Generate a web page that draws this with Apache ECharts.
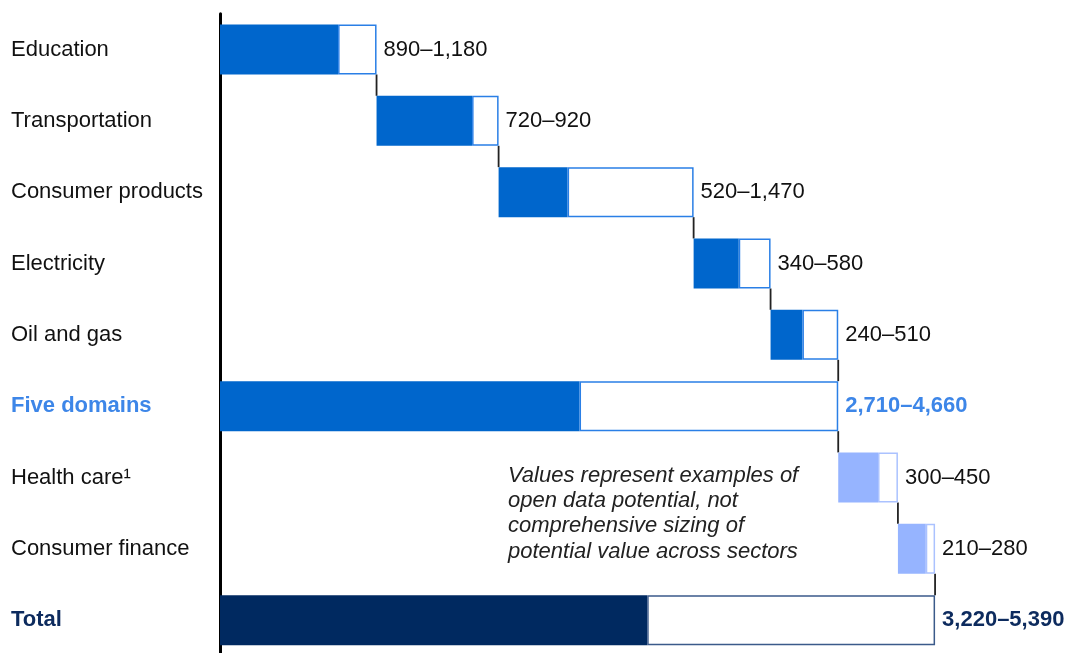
<!DOCTYPE html>
<html>
<head>
<meta charset="utf-8">
<script src="https://cdn.jsdelivr.net/npm/echarts@6/dist/echarts.min.js"></script>
<style>
  html, body { margin: 0; padding: 0; background: #fff; overflow: hidden; width: 1067px; height: 653px; }
  #chart { width: 1067px; height: 662px; }
</style>
</head>
<body>
<div id="chart"></div>
<script>
// ---- Data ----
const categories = ['Education', 'Transportation', 'Consumer products', 'Electricity', 'Oil and gas', 'Five domains', 'Health care\u00B9', 'Consumer finance', 'Total'];
const lowValues  = [890, 720, 520, 340, 240, 2710, 300, 210, 3220];
const highValues = [1180, 920, 1470, 580, 510, 4660, 450, 280, 5390];
const rowKinds   = ['domain', 'domain', 'domain', 'domain', 'domain', 'subtotal', 'sector', 'sector', 'total'];
const noteText = 'Values represent examples of\nopen data potential, not\ncomprehensive sizing of\npotential value across sectors';

// ---- Derived (waterfall offsets) ----
const offsets = [];
let running = 0;
rowKinds.forEach((k, i) => {
  if (k === 'subtotal' || k === 'total') { offsets.push(0); }
  else { offsets.push(running); running += highValues[i]; }
});
const ends = offsets.map((o, i) => o + highValues[i]);

const palette = {
  domain:   { fill: '#0066CC', border: '#2A7FE6', text: '#111' },
  subtotal: { fill: '#0066CC', border: '#2A7FE6', text: '#3D86E8' },
  sector:   { fill: '#96B4FF', border: '#ABC2FF', text: '#111' },
  total:    { fill: '#002960', border: '#3B5A8A', text: '#0D2B5E' }
};
const fmt = n => n.toLocaleString('en-US');
const FS = 22;
const BAR_H = 50;
const FONT = 'Liberation Sans, Arial, sans-serif';

const chart = echarts.init(document.getElementById('chart'), null, { renderer: 'canvas' });
chart.setOption({
  animation: false,
  backgroundColor: '#fff',
  grid: { left: 220, top: 13.8, width: 796, height: 642 },
  xAxis: { type: 'value', min: 0, max: 6000, show: false },
  yAxis: {
    type: 'category', inverse: true, data: categories,
    axisLine: { show: true, lineStyle: { color: '#000', width: 3 } },
    axisTick: { show: false },
    axisLabel: {
      margin: 209, align: 'left',
      fontFamily: FONT, fontSize: FS, color: '#111',
      formatter: v => {
        const i = categories.indexOf(v);
        if (rowKinds[i] === 'subtotal') return '{sub|' + v + '}';
        if (rowKinds[i] === 'total') return '{tot|' + v + '}';
        return v;
      },
      rich: {
        sub: { fontFamily: FONT, fontSize: FS, fontWeight: 'bold', color: palette.subtotal.text },
        tot: { fontFamily: FONT, fontSize: FS, fontWeight: 'bold', color: palette.total.text }
      }
    }
  },
  graphic: [{
    type: 'text', left: 508, top: 463,
    style: {
      text: noteText, fontFamily: FONT, fontSize: FS,
      fontStyle: 'italic', fill: '#222', lineHeight: 25.3
    }
  }],
  series: [
    {
      type: 'bar', stack: 'w', barWidth: BAR_H, silent: true,
      itemStyle: { color: 'transparent' },
      data: offsets
    },
    {
      type: 'bar', stack: 'w', barWidth: BAR_H, silent: true,
      data: lowValues.map((v, i) => ({ value: v, itemStyle: { color: palette[rowKinds[i]].fill } }))
    },
    {
      type: 'bar', stack: 'w', barWidth: BAR_H, silent: true,
      data: highValues.map((h, i) => {
        const p = palette[rowKinds[i]];
        const bold = rowKinds[i] === 'subtotal' || rowKinds[i] === 'total';
        return {
          value: h - lowValues[i],
          itemStyle: { color: '#fff', borderColor: p.border, borderWidth: 1.5 },
          label: {
            show: true, position: 'right', distance: 7,
            fontFamily: FONT, fontSize: FS,
            fontWeight: bold ? 'bold' : 'normal', color: p.text,
            formatter: () => fmt(lowValues[i]) + '\u2013' + fmt(h)
          }
        };
      })
    },
    {
      type: 'custom', silent: true, z: 1,
      encode: { x: 0, y: 1 },
      data: ends.slice(0, ends.length - 1).map((e, i) => [e, i]),
      renderItem: (params, api) => {
        const x = api.value(0), i = api.value(1);
        const p1 = api.coord([x, i]);
        const p2 = api.coord([x, i + 1]);
        return {
          type: 'line',
          shape: { x1: p1[0], y1: p1[1] + BAR_H / 2, x2: p2[0], y2: p2[1] - BAR_H / 2 },
          style: { stroke: '#222', lineWidth: 1.8 }
        };
      }
    }
  ]
});
</script>
</body>
</html>
